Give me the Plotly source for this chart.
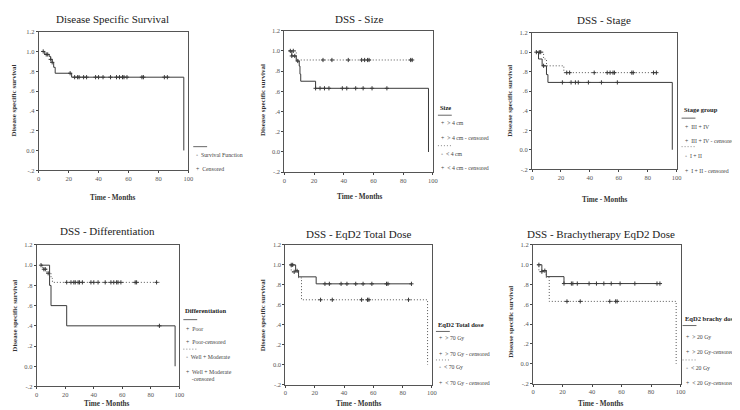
import numpy as np
import plotly.graph_objects as go

W, H = 740, 410

# ---------------- data ----------------
# Panel 1: overall
all_t = [2, 4, 7, 8, 9, 10, 11, 22, 97]
all_s = [1.0, 0.97, 0.95, 0.92, 0.89, 0.84, 0.78, 0.74, 0.0]
all_c = [3, 5, 6, 8, 9, 21, 24, 26, 27, 30, 32, 38, 40, 43, 48, 52, 54, 56, 57, 59, 69, 70, 84, 86]

# Panel 2: size
big_t = [3, 5, 8, 10, 10.5, 11, 21, 97]
big_s = [1.0, 0.95, 0.90, 0.85, 0.77, 0.70, 0.63, 0.0]
big_c = [5, 7, 9, 21, 24, 27, 30, 39, 42, 48, 53, 59, 69]
small_t = [3, 8, 86]
small_s = [1.0, 0.91, 0.91]
small_c = [4, 6, 26, 32, 43, 52, 54, 56, 57, 85, 86]

# Panel 3: stage
st34_t = [3, 4.5, 7, 10, 11, 97]
st34_s = [1.0, 0.93, 0.86, 0.77, 0.69, 0.0]
st34_c = [8, 21, 27, 30, 32, 39, 48, 59]
st12_t = [3, 8, 10, 22, 86]
st12_s = [1.0, 0.93, 0.86, 0.79, 0.79]
st12_c = [3, 5, 6, 24, 26, 43, 52, 54, 56, 57, 69, 70, 84, 86]

# Panel 4: differentiation
poor_t = [3, 9, 10, 21, 97]
poor_s = [1.0, 0.80, 0.60, 0.40, 0.0]
poor_c = [86]
wm_t = [3, 4, 7, 10, 11, 86]
wm_s = [1.0, 0.96, 0.92, 0.87, 0.83, 0.83]
wm_c = [3, 5, 6, 8, 21, 24, 26, 27, 29, 30, 32, 38, 40, 43, 48, 52, 54, 56, 57, 59, 69, 70, 84]

# Panel 5: EqD2 total dose
hi70_t = [3, 7, 9, 21, 86]
hi70_s = [1.0, 0.94, 0.88, 0.81, 0.81]
hi70_c = [4, 5, 8, 27, 30, 38, 42, 48, 53, 59, 69, 70, 86]
lo70_t = [3, 4, 9, 11, 97]
lo70_s = [1.0, 0.93, 0.87, 0.65, 0.0]
lo70_c = [6, 24, 32, 52, 56, 57, 84]

# Panel 6: brachy dose
hi20_t = [3, 6, 9, 21, 86]
hi20_s = [1.0, 0.94, 0.88, 0.81, 0.81]
hi20_c = [4, 8, 21, 26, 27, 30, 38, 43, 48, 53, 59, 69, 84, 86]
lo20_t = [3, 4, 9, 11, 97]
lo20_s = [1.0, 0.93, 0.87, 0.63, 0.0]
lo20_c = [6, 23, 32, 52, 56, 57]

titles = ["Disease Specific Survival", "DSS - Size", "DSS - Stage",
          "DSS - Differentiation", "DSS - EqD2 Total Dose", "DSS - Brachytherapy EqD2 Dose"]
x_ticks = [0, 20, 40, 60, 80, 100]
y_ticks = [-0.2, 0.0, 0.2, 0.4, 0.6, 0.8, 1.0, 1.2]
y_tick_labels = ["-.2", "0.0", ".2", ".4", ".6", ".8", "1.0", "1.2"]

# ---------------- layout geometry (pixels) ----------------
boxes = [  # x0, x1, ytop, ybottom
    (29, 180, 20, 161),
    (277, 427, 19, 163),
    (527, 673, 21, 160),
    (27, 171, 237, 381),
    (278, 426, 237, 379),
    (528, 677, 237, 378),
]
title_pos = [(103, 7), (352, 7), (600, 8), (98, 223), (352, 226), (597, 226)]
xlab_pos = [(104, 189), (353, 188), (601, 191), (98, 399), (352, 399), (597, 399)]
ylab_pos = [(5, 90), (256, 90), (505, 90), (5, 309), (255, 309), (505, 315)]

panels = [
    [(all_t, all_s, all_c, "solid")],
    [(big_t, big_s, big_c, "solid"), (small_t, small_s, small_c, "dot")],
    [(st34_t, st34_s, st34_c, "solid"), (st12_t, st12_s, st12_c, "dot")],
    [(poor_t, poor_s, poor_c, "solid"), (wm_t, wm_s, wm_c, "dot")],
    [(hi70_t, hi70_s, hi70_c, "solid"), (lo70_t, lo70_s, lo70_c, "dot")],
    [(hi20_t, hi20_s, hi20_c, "solid"), (lo20_t, lo20_s, lo20_c, "dot")],
]

SERIF = "Liberation Serif, Times New Roman, Times, serif"
LC = "#3a3a3a"
DOT = "1px,2px"

def px(x):
    return x / W

def py(y):
    return 1 - y / H

def step_val(t, s, x):
    t = np.asarray(t, float)
    s = np.asarray(s, float)
    i = np.searchsorted(t, x, side="right") - 1
    i = max(0, min(i, len(s) - 1))
    v = s[i]
    if v == 0.0 and i > 0:
        v = s[i - 1]
    return v

fig = go.Figure()
annotations = []
shapes = []

for k, (box, series) in enumerate(zip(boxes, panels)):
    n = k + 1
    xa = "x" if n == 1 else f"x{n}"
    ya = "y" if n == 1 else f"y{n}"
    for (t, s, c, dash) in series:
        d = DOT if dash == "dot" else "solid"
        col = "#555" if dash == "dot" else LC
        fig.add_trace(go.Scatter(x=t, y=s, mode="lines", line=dict(shape="hv", color=col, width=1, dash=d),
                                 xaxis=xa, yaxis=ya, showlegend=False, hoverinfo="skip"))
        cy = [step_val(t, s, v) for v in c]
        fig.add_trace(go.Scatter(x=c, y=cy, mode="markers",
                                 marker=dict(symbol="cross-thin", size=3, line=dict(color=LC, width=1)),
                                 xaxis=xa, yaxis=ya, showlegend=False, hoverinfo="skip"))
    x0, x1, yt, yb = box
    axcommon = dict(showline=True, linecolor="#555", linewidth=1, mirror=True, showgrid=False, zeroline=False,
                    ticks="outside", ticklen=2, tickwidth=1, tickcolor="#444",
                    tickfont=dict(family=SERIF, size=6.5, color="#555"))
    fig.layout[f"xaxis{'' if n == 1 else n}"] = dict(
        domain=[px(x0), px(x1)], range=[0, 100], tickvals=x_ticks, anchor=ya, **axcommon)
    fig.layout[f"yaxis{'' if n == 1 else n}"] = dict(
        domain=[py(yb), py(yt)], range=[-0.2, 1.2], tickvals=y_ticks, ticktext=y_tick_labels,
        anchor=xa, **axcommon)
    tx, ty = title_pos[k]
    annotations.append(dict(x=px(tx), y=py(ty), xref="paper", yref="paper", text=titles[k], showarrow=False,
                            font=dict(family=SERIF, size=11, color="#222"), xanchor="center", yanchor="middle"))
    lx, ly = xlab_pos[k]
    annotations.append(dict(x=px(lx), y=py(ly), xref="paper", yref="paper", text="<b>Time - Months</b>",
                            showarrow=False, font=dict(family=SERIF, size=7.2, color="#333"),
                            xanchor="center", yanchor="middle"))
    yx, yy = ylab_pos[k]
    annotations.append(dict(x=px(yx), y=py(yy), xref="paper", yref="paper", text="<b>Disease specific survival</b>",
                            showarrow=False, textangle=-90, font=dict(family=SERIF, size=7, color="#333"),
                            xanchor="center", yanchor="middle"))

# ---------------- legends ----------------
legends = [
    dict(x=185, head=None, line1=137, items=[("◦  Survival Function", 145), ("+  Censored", 160)], line2=None),
    dict(x=432, head=("Size", 97), line1=105,
         items=[("+  > 4 cm", 113), ("+  > 4 cm - censored", 128), ("◦  < 4 cm", 144), ("+  < 4 cm - censored", 159)],
         line2=136),
    dict(x=678, head=("Stage group", 99), line1=108,
         items=[("+  III + IV", 117), ("+  III + IV - censored", 131), ("◦  I + II", 146), ("+  I + II - censored", 162)],
         line2=137),
    dict(x=175, head=("Differentiation", 304), line1=313,
         items=[("+  Poor", 322), ("+  Poor-censored", 336), ("◦  Well + Moderate", 351),
                ("+  Well + Moderate", 366), ("    -censored", 373)],
         line2=343),
    dict(x=430, head=("EqD2 Total dose", 318), line1=325,
         items=[("+  > 70 Gy", 332), ("+  > 70 Gy - censored", 348), ("◦  < 70 Gy", 361), ("+  < 70 Gy - censored", 377)],
         line2=354),
    dict(x=679, head=("EqD2 brachy dose", 312), line1=319,
         items=[("+  > 20 Gy", 331), ("+  > 20 Gy-censored", 346), ("◦  < 20 Gy", 362), ("+  < 20 Gy-censored", 377)],
         line2=354),
]
for lg in legends:
    x = lg["x"]
    if lg["head"]:
        annotations.append(dict(x=px(x), y=py(lg["head"][1]), xref="paper", yref="paper",
                                text=f"<b>{lg['head'][0]}</b>", showarrow=False, xanchor="left", yanchor="middle",
                                font=dict(family=SERIF, size=6.5, color="#222")))
    shapes.append(dict(type="line", xref="paper", yref="paper", x0=px(x), x1=px(x + 14),
                       y0=py(lg["line1"]), y1=py(lg["line1"]), line=dict(color="#666", width=1)))
    if lg["line2"]:
        shapes.append(dict(type="line", xref="paper", yref="paper", x0=px(x), x1=px(x + 14),
                           y0=py(lg["line2"]), y1=py(lg["line2"]), line=dict(color="#888", width=1, dash=DOT)))
    for txt, yy in lg["items"]:
        annotations.append(dict(x=px(x + 1), y=py(yy), xref="paper", yref="paper", text=txt, showarrow=False,
                                xanchor="left", yanchor="middle", font=dict(family=SERIF, size=5.8, color="#444")))

fig.update_layout(width=W, height=H, margin=dict(l=0, r=0, t=0, b=0), paper_bgcolor="white",
                  plot_bgcolor="white", annotations=annotations, shapes=shapes, showlegend=False)
fig.write_html("out.html")
